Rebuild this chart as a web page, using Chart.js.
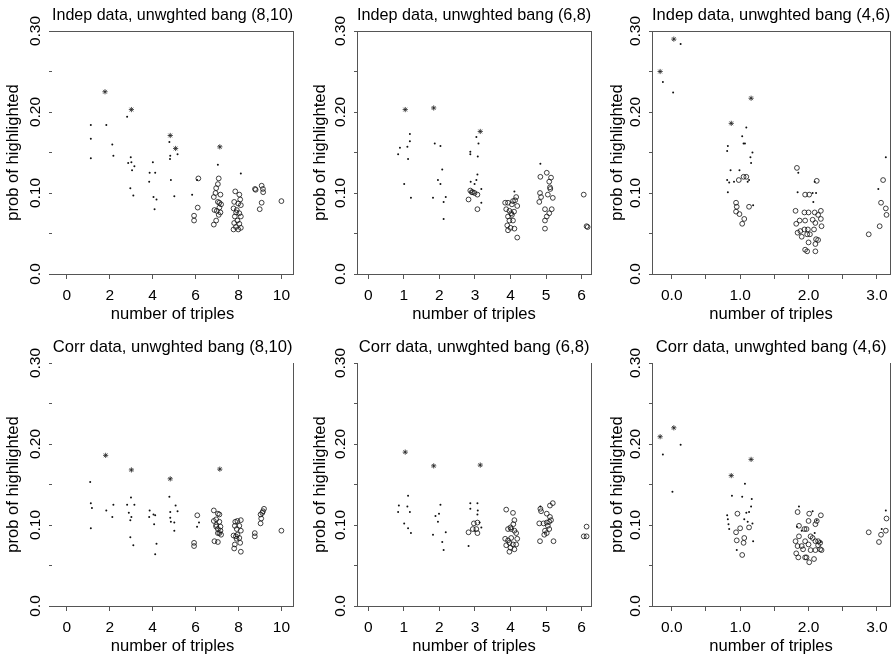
<!DOCTYPE html>
<html>
<head>
<meta charset="utf-8">
<script src="https://cdn.jsdelivr.net/npm/chart.js@4.4.1/dist/chart.umd.min.js"></script>
<style>
  body { margin: 0; background: #fff; width: 895px; height: 659px; position: relative; overflow: hidden; }
  canvas { position: absolute; }
</style>
</head>
<body>
<script>
/* Tick positions and labels */
const yTicks = [0, 0.05, 0.1, 0.15, 0.2, 0.25, 0.3];
const yTickLabels = ["0.0", "", "0.10", "", "0.20", "", "0.30"];
const xTicks810 = [0, 2, 4, 6, 8, 10];
const xLabels810 = ["0", "2", "4", "6", "8", "10"];
const xTicks68 = [0, 1, 2, 3, 4, 5, 6];
const xLabels68 = ["0", "1", "2", "3", "4", "5", "6"];
const xTicks46 = [0, 0.5, 1, 1.5, 2, 2.5, 3];
const xLabels46 = ["0.0", "", "1.0", "", "2.0", "", "3.0"];

/* Indep data (8,10) */
const indep810Dots = [[1.12,0.184],[1.12,0.167],[1.12,0.143],[1.84,0.184],[2.12,0.160],[2.17,0.146],[2.81,0.194],[2.86,0.137],[2.98,0.144],[3.01,0.138],[3.15,0.133],[3.04,0.128],[2.96,0.106],[3.10,0.097],[3.86,0.125],[4.01,0.138],[4.12,0.125],[3.84,0.114],[4.04,0.095],[4.18,0.092],[4.09,0.080],[4.78,0.163],[5.16,0.148],[4.82,0.146],[4.81,0.142],[4.85,0.116],[5.01,0.096],[5.84,0.098],[6.07,0.116],[7.04,0.135],[8.11,0.124]];
const indep810Hash = [[1.78,0.225],[3.01,0.203],[4.82,0.171],[5.07,0.155],[7.13,0.157]];
const indep810Circ = [[6.13,0.118],[6.10,0.082],[5.93,0.072],[5.93,0.066],[7.08,0.118],[6.96,0.106],[7.04,0.111],[6.93,0.100],[6.85,0.095],[7.16,0.098],[7.04,0.089],[7.11,0.088],[7.19,0.086],[6.88,0.079],[6.99,0.078],[7.08,0.073],[7.16,0.076],[6.96,0.066],[6.85,0.061],[7.11,0.082],[7.85,0.102],[8.04,0.098],[8.08,0.092],[7.80,0.089],[7.99,0.087],[8.11,0.085],[7.77,0.081],[7.92,0.079],[8.04,0.075],[7.83,0.071],[8.11,0.071],[7.95,0.066],[7.80,0.063],[8.04,0.062],[7.88,0.058],[8.11,0.057],[7.77,0.055],[7.99,0.055],[7.89,0.076],[8.77,0.105],[8.80,0.104],[9.08,0.109],[9.14,0.105],[9.15,0.101],[9.08,0.088],[8.99,0.080],[10.0,0.090]];

/* Indep data (6,8) */
const indep68Dots = [[0.84,0.148],[0.89,0.156],[1.10,0.157],[1.17,0.173],[1.17,0.164],[1.12,0.142],[1.01,0.111],[1.20,0.094],[1.87,0.161],[2.03,0.158],[1.96,0.116],[2.03,0.111],[2.08,0.129],[1.82,0.094],[2.18,0.095],[2.12,0.089],[2.12,0.068],[2.87,0.151],[2.87,0.148],[3.08,0.145],[3.04,0.169],[3.10,0.161],[3.07,0.123],[3.04,0.116],[2.99,0.111],[2.88,0.114],[3.18,0.105],[3.18,0.088],[4.84,0.136],[4.11,0.102]];
const indep68Hash = [[1.04,0.203],[1.84,0.205],[3.15,0.176]];
const indep68Circ = [[2.82,0.092],[2.87,0.103],[2.94,0.101],[2.99,0.100],[3.07,0.098],[3.07,0.080],[2.91,0.101],[3.85,0.088],[3.93,0.088],[4.07,0.090],[4.16,0.095],[4.04,0.086],[4.19,0.084],[3.88,0.080],[3.97,0.078],[4.02,0.075],[4.10,0.077],[3.93,0.071],[4.04,0.073],[3.97,0.066],[4.07,0.066],[3.91,0.060],[4.00,0.057],[4.11,0.056],[3.93,0.054],[4.19,0.045],[4.13,0.091],[4.84,0.120],[5.02,0.125],[5.14,0.119],[5.09,0.114],[5.11,0.107],[4.83,0.100],[4.86,0.095],[4.81,0.089],[5.05,0.098],[5.19,0.094],[4.97,0.080],[5.16,0.080],[5.09,0.075],[5.02,0.071],[4.97,0.066],[4.97,0.056],[5.12,0.105],[6.06,0.098],[6.14,0.059],[6.17,0.058]];

/* Indep data (4,6) */
const indep46Dots = [[-0.13,0.237],[0.02,0.224],[0.13,0.284],[0.82,0.158],[0.81,0.152],[0.86,0.128],[0.81,0.116],[0.84,0.113],[0.82,0.101],[0.99,0.128],[1.03,0.170],[1.09,0.181],[1.05,0.161],[1.07,0.161],[1.18,0.150],[1.15,0.144],[1.16,0.137],[1.13,0.116],[1.11,0.114],[1.19,0.085],[0.91,0.114],[1.85,0.125],[1.84,0.101],[2.06,0.100],[2.09,0.114],[2.07,0.089],[2.11,0.100],[3.02,0.105],[3.13,0.144]];
const indep46Hash = [[-0.17,0.250],[0.03,0.290],[0.87,0.186],[1.16,0.217]];
const indep46Circ = [[0.98,0.116],[1.05,0.120],[1.09,0.120],[0.94,0.088],[0.95,0.083],[0.94,0.077],[0.99,0.074],[1.06,0.068],[1.03,0.062],[1.13,0.083],[1.83,0.131],[1.95,0.098],[2.01,0.098],[2.12,0.115],[1.81,0.078],[1.94,0.076],[2.00,0.076],[2.09,0.076],[2.18,0.078],[2.14,0.073],[1.87,0.066],[1.82,0.062],[1.95,0.066],[2.06,0.067],[2.10,0.063],[2.18,0.068],[1.88,0.053],[1.84,0.051],[1.94,0.055],[1.99,0.055],[1.98,0.049],[2.02,0.049],[1.90,0.046],[2.08,0.055],[2.19,0.059],[2.11,0.043],[2.14,0.042],[2.10,0.037],[2.00,0.039],[1.95,0.030],[1.98,0.028],[2.10,0.028],[2.88,0.049],[3.06,0.088],[3.04,0.059],[3.09,0.116],[3.13,0.081],[3.14,0.073]];

/* Corr data (8,10) */
const corr810Dots = [[1.09,0.153],[1.12,0.127],[1.17,0.121],[1.12,0.096],[1.84,0.118],[2.12,0.110],[2.17,0.125],[2.81,0.125],[2.89,0.115],[2.96,0.106],[3.01,0.110],[2.99,0.134],[3.15,0.125],[2.96,0.085],[3.10,0.075],[3.86,0.118],[3.84,0.110],[4.04,0.113],[4.12,0.112],[4.07,0.101],[4.18,0.077],[4.12,0.064],[4.78,0.135],[4.82,0.116],[5.07,0.124],[5.16,0.117],[4.82,0.109],[4.85,0.104],[5.01,0.103],[5.01,0.093],[6.07,0.098],[6.16,0.103]];
const corr810Hash = [[1.81,0.186],[3.01,0.168],[4.82,0.157],[7.13,0.169]];
const corr810Circ = [[6.08,0.112],[5.93,0.078],[5.93,0.074],[6.85,0.118],[7.04,0.114],[7.11,0.113],[6.96,0.107],[6.85,0.105],[7.11,0.104],[6.96,0.098],[7.16,0.098],[7.04,0.095],[7.16,0.093],[7.04,0.090],[7.11,0.090],[7.19,0.088],[6.88,0.080],[7.04,0.079],[6.96,0.100],[7.85,0.104],[7.95,0.105],[8.11,0.106],[8.04,0.099],[7.83,0.099],[7.92,0.095],[8.11,0.093],[7.77,0.087],[7.88,0.086],[8.04,0.084],[7.95,0.088],[8.08,0.078],[7.83,0.076],[7.80,0.071],[8.11,0.067],[7.91,0.083],[8.76,0.090],[8.76,0.086],[9.03,0.113],[9.14,0.117],[9.19,0.120],[9.11,0.115],[9.06,0.108],[9.03,0.102],[10.0,0.093]];

/* Corr data (6,8) */
const corr68Dots = [[0.84,0.116],[0.86,0.124],[1.12,0.136],[1.10,0.123],[1.17,0.116],[1.01,0.102],[1.12,0.096],[1.20,0.090],[1.82,0.088],[1.96,0.104],[1.99,0.114],[2.03,0.125],[1.89,0.111],[2.08,0.079],[2.12,0.069],[2.18,0.091],[2.82,0.074],[2.87,0.127],[2.87,0.120],[3.07,0.127],[3.08,0.118],[3.07,0.113],[3.18,0.097],[3.13,0.103],[2.99,0.093],[4.84,0.123]];
const corr68Hash = [[1.04,0.190],[1.84,0.173],[3.15,0.174]];
const corr68Circ = [[2.82,0.091],[2.94,0.095],[3.07,0.103],[3.07,0.090],[2.97,0.102],[3.04,0.095],[3.88,0.119],[4.07,0.115],[4.11,0.106],[4.08,0.101],[4.00,0.097],[3.93,0.095],[4.02,0.095],[4.11,0.093],[4.16,0.090],[3.85,0.083],[3.93,0.081],[4.19,0.083],[4.02,0.084],[3.97,0.078],[4.07,0.076],[3.88,0.075],[4.16,0.076],[4.00,0.072],[4.11,0.070],[3.97,0.067],[4.84,0.120],[4.86,0.117],[5.02,0.114],[5.19,0.127],[5.11,0.124],[5.11,0.110],[5.09,0.104],[5.02,0.103],[4.81,0.102],[4.93,0.102],[5.05,0.099],[5.09,0.095],[4.97,0.093],[5.02,0.090],[4.95,0.088],[4.83,0.080],[5.21,0.080],[5.14,0.106],[6.14,0.098],[6.06,0.086],[6.14,0.086]];

/* Corr data (4,6) */
const corr46Dots = [[-0.13,0.187],[0.13,0.199],[0.01,0.141],[0.81,0.112],[0.82,0.107],[0.83,0.101],[0.88,0.136],[1.03,0.135],[1.07,0.151],[1.17,0.132],[1.16,0.123],[1.13,0.116],[1.09,0.115],[1.06,0.107],[1.11,0.104],[1.18,0.102],[1.19,0.080],[0.95,0.069],[0.84,0.095],[1.86,0.123],[2.06,0.117],[2.12,0.106],[1.83,0.098],[1.90,0.093],[2.09,0.090],[2.18,0.079],[3.13,0.118],[3.07,0.095]];
const corr46Hash = [[-0.17,0.209],[0.03,0.220],[0.87,0.161],[1.16,0.181]];
const corr46Circ = [[0.96,0.114],[1.00,0.096],[0.94,0.091],[0.95,0.081],[1.06,0.084],[1.05,0.078],[1.13,0.097],[1.03,0.063],[1.84,0.116],[2.01,0.114],[2.18,0.112],[2.12,0.105],[2.10,0.101],[2.00,0.105],[1.86,0.099],[1.94,0.095],[1.97,0.095],[2.03,0.086],[2.06,0.084],[2.10,0.080],[2.14,0.080],[2.17,0.078],[1.81,0.080],[1.86,0.086],[1.84,0.074],[1.90,0.074],[1.95,0.080],[2.00,0.076],[2.03,0.069],[2.10,0.069],[2.17,0.070],[2.19,0.069],[1.82,0.065],[1.85,0.060],[1.95,0.060],[1.97,0.060],[2.01,0.054],[2.08,0.058],[1.92,0.070],[2.14,0.075],[2.88,0.091],[3.03,0.079],[3.06,0.088],[3.13,0.093],[3.14,0.108]];

Chart.defaults.font.family = "'Liberation Sans', Arial, sans-serif";
Chart.defaults.color = "#000";

const lineColor = "#555";
const tickFont = 15.5;
const labFont = 16.6;

/* measure y tick label so its centre sits 16px left of the plot */
const mctx = document.createElement("canvas").getContext("2d");
mctx.font = tickFont + "px 'Liberation Sans'";
const halfLab = mctx.measureText("0.30").width / 2;

/* panel layout: canvas box + plot edges inside it */
const panels = [
  { title: "Indep data, unwghted bang (8,10)", left: 0, top: 0, plotL: 52, plotR: 296, yTitleGap: 39, leftLine: false, topLine: true,
    xmin: -0.69, xmax: 10.55, xt: xTicks810, xl: xLabels810, dots: indep810Dots, hash: indep810Hash, circ: indep810Circ },
  { title: "Indep data, unwghted bang (6,8)", left: 298, top: 0, plotL: 59, plotR: 294, yTitleGap: 37, leftLine: true, topLine: true,
    xmin: -0.317, xmax: 6.27, xt: xTicks68, xl: xLabels68, dots: indep68Dots, hash: indep68Hash, circ: indep68Circ },
  { title: "Indep data, unwghted bang (4,6)", left: 597, top: 0, plotL: 55, plotR: 296, yTitleGap: 35, leftLine: true, topLine: true,
    xmin: -0.289, xmax: 3.194, xt: xTicks46, xl: xLabels46, dots: indep46Dots, hash: indep46Hash, circ: indep46Circ },
  { title: "Corr data, unwghted bang (8,10)", left: 0, top: 332, plotL: 52, plotR: 296, yTitleGap: 39, leftLine: false, topLine: false,
    xmin: -0.69, xmax: 10.55, xt: xTicks810, xl: xLabels810, dots: corr810Dots, hash: corr810Hash, circ: corr810Circ },
  { title: "Corr data, unwghted bang (6,8)", left: 298, top: 332, plotL: 59, plotR: 294, yTitleGap: 37, leftLine: true, topLine: false,
    xmin: -0.317, xmax: 6.27, xt: xTicks68, xl: xLabels68, dots: corr68Dots, hash: corr68Hash, circ: corr68Circ },
  { title: "Corr data, unwghted bang (4,6)", left: 597, top: 332, plotL: 55, plotR: 296, yTitleGap: 35, leftLine: true, topLine: false,
    xmin: -0.289, xmax: 3.194, xt: xTicks46, xl: xLabels46, dots: corr46Dots, hash: corr46Hash, circ: corr46Circ },
];

const toXY = (arr) => arr.map((p) => ({ x: p[0], y: p[1] }));

panels.forEach((p) => {
  const cv = document.createElement("canvas");
  cv.width = 298;
  cv.height = 327;
  cv.style.left = p.left + "px";
  cv.style.top = p.top + "px";
  document.body.appendChild(cv);

  new Chart(cv.getContext("2d"), {
    type: "scatter",
    data: {
      datasets: [
        { data: toXY(p.dots), pointStyle: "circle", pointRadius: 1, backgroundColor: "#111", borderWidth: 0 },
        { data: toXY(p.hash), pointStyle: "star", pointRadius: 2.6, borderColor: "#222", borderWidth: 0.8 },
        { data: toXY(p.circ), pointStyle: "circle", pointRadius: 2.4, backgroundColor: "rgba(0,0,0,0)", borderColor: "#111", borderWidth: 0.8 },
      ],
    },
    options: {
      responsive: false,
      animation: false,
      events: [],
      layout: { padding: { left: 0, right: 298 - p.plotR, top: 0, bottom: 0 } },
      plugins: {
        legend: { display: false },
        tooltip: { enabled: false },
        title: {
          display: true,
          text: p.title,
          fullSize: false,
          color: "#000",
          font: { size: labFont, weight: "normal" },
          padding: { top: 5.5, bottom: 5.6 },
        },
      },
      scales: {
        x: {
          type: "linear",
          position: "bottom",
          min: p.xmin,
          max: p.xmax,
          afterBuildTicks: (s) => { s.ticks = p.xt.map((v) => ({ value: v })); },
          afterFit: (s) => { s.height = 53; },
          ticks: { autoSkip: false, maxRotation: 0, font: { size: tickFont }, padding: 7, callback: (v, k) => p.xl[k] },
          grid: { display: true, drawOnChartArea: false, drawTicks: true, tickLength: 5, color: lineColor },
          border: { display: true, color: lineColor, width: 1 },
          title: { display: true, text: "number of triples", font: { size: labFont }, padding: { top: 0, bottom: 3 } },
        },
        y: {
          type: "linear",
          position: "left",
          min: 0,
          max: 0.3,
          afterBuildTicks: (s) => { s.ticks = yTicks.map((v) => ({ value: v })); },
          afterFit: (s) => { s.width = p.plotL; },
          ticks: {
            autoSkip: false, minRotation: 90, maxRotation: 90, crossAlign: "center",
            font: { size: tickFont }, padding: 16 - 3 - halfLab,
            callback: (v, k) => yTickLabels[k],
          },
          grid: { display: true, drawOnChartArea: false, drawTicks: true, tickLength: 3, color: lineColor },
          border: { display: p.leftLine, color: lineColor, width: 1 },
          title: { display: true, text: "prob of highlighted", font: { size: labFont }, padding: { top: p.plotL - p.yTitleGap - labFont * 0.6, bottom: 0 } },
        },
        x2: {
          type: "linear",
          position: "top",
          display: p.topLine,
          afterFit: (s) => { s.height = 0; },
          ticks: { display: false },
          grid: { display: false },
          border: { display: true, color: lineColor, width: 1 },
        },
        y2: {
          type: "linear",
          position: "right",
          afterFit: (s) => { s.width = 0; },
          ticks: { display: false },
          grid: { display: false },
          border: { display: true, color: lineColor, width: 1 },
        },
      },
    },
  });
});
</script>
</body>
</html>
